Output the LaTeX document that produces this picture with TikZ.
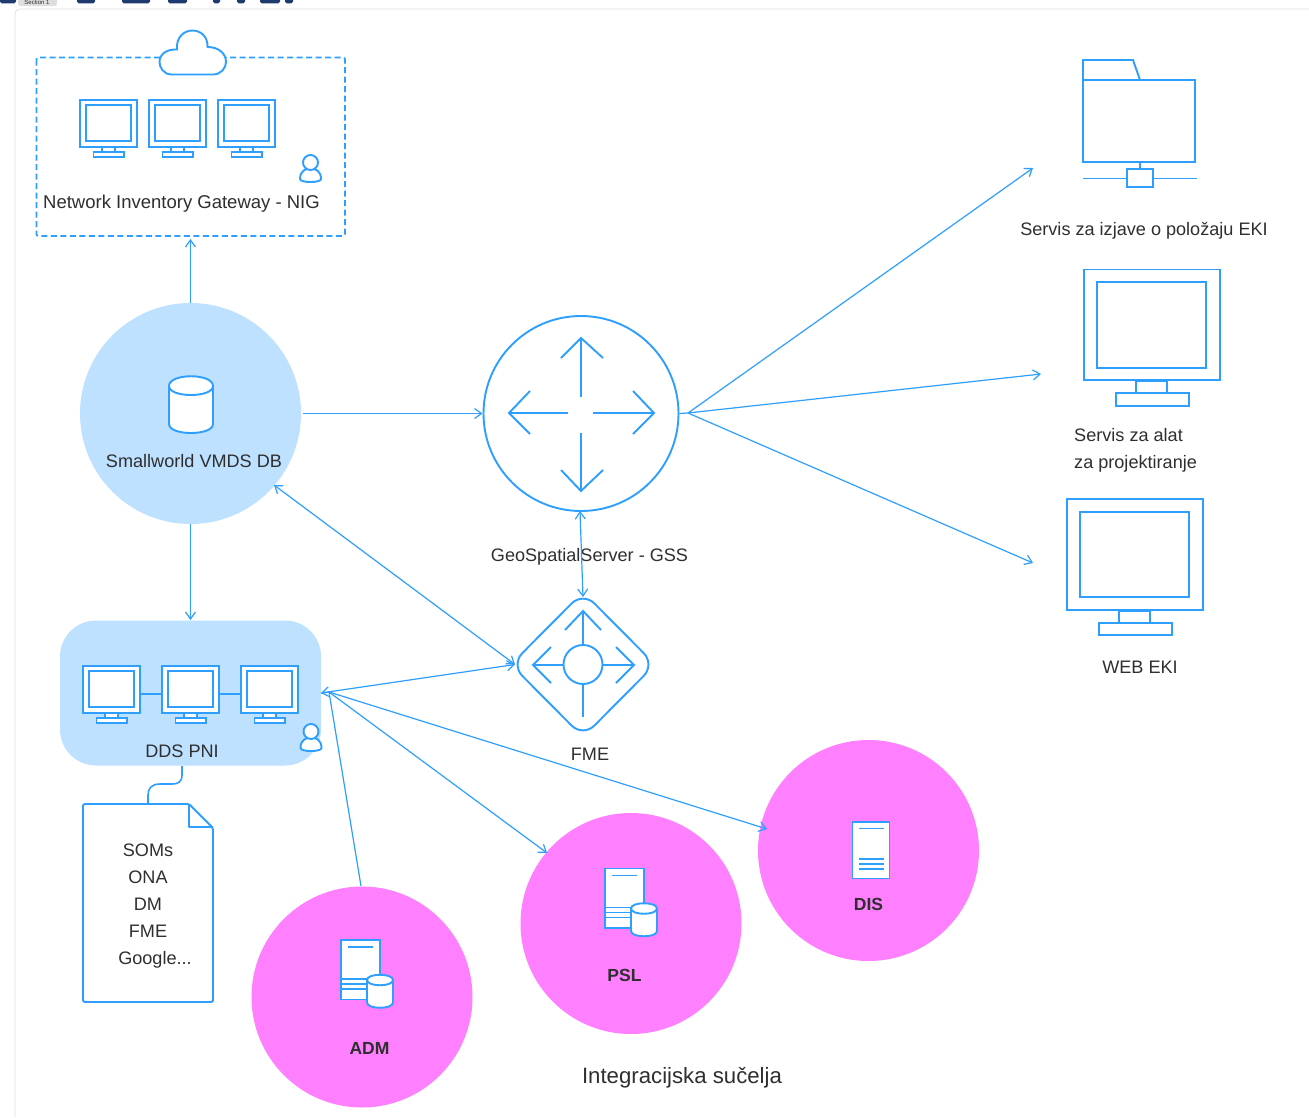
\documentclass[tikz,border=0pt]{standalone}
\usepackage{fontspec}
\setmainfont{Liberation Sans}
\usetikzlibrary{arrows.meta}
\definecolor{lineblue}{HTML}{2E9FFF}
\definecolor{softblue}{HTML}{BDE1FF}
\definecolor{pinkfill}{HTML}{FF80FF}
\definecolor{inktext}{HTML}{2F2F2F}
\definecolor{navy}{HTML}{1F3A6E}
\tikzset{
 x=1pt,y=-1pt,
 icon/.style={draw=lineblue,line width=1.9pt,fill=white},
 iconline/.style={draw=lineblue,line width=1.9pt},
 conn/.style={draw=lineblue,line width=1.2pt,-{Straight Barb[length=7pt,width=10pt,line width=1.2pt]}},
 biconn/.style={draw=lineblue,line width=1.2pt,{Straight Barb[length=7pt,width=10pt,line width=1.2pt]}-{Straight Barb[length=7pt,width=10pt,line width=1.2pt]}},
 plainconn/.style={draw=lineblue,line width=1.2pt},
 lbl/.style={text=inktext,font=\fontsize{18.1}{22}\selectfont,inner sep=0pt,text height=13pt,text depth=0pt},
 blbl/.style={text=inktext,font=\fontsize{17.5}{21}\selectfont\bfseries,inner sep=0pt,text height=12.6pt,text depth=0pt},
 dot/.style={inner sep=0pt,minimum size=0pt},
}
\newcommand{\monitor}[3]{% x y scale; x,y = top-left of outer frame
 \begin{scope}[shift={(#1,#2)},scale=#3]
 \draw[icon] (13.5,52) rectangle (44,57.3);
 \draw[icon] (22,47) rectangle (35,52);
 \draw[icon] (0,0) rectangle (57,46.6);
 \draw[iconline] (5.6,5.4) rectangle (51.4,41.2);
 \end{scope}}
\newcommand{\persona}[2]{%
 \begin{scope}[shift={(#1,#2)}]
 \draw[icon] (-10.5,24) .. controls (-10.5,16) and (-5,13.5) .. (0,13.5) .. controls (5,13.5) and (10.5,16) .. (10.5,24) .. controls (10.5,28) and (-10.5,28) .. (-10.5,24) -- cycle;
 \draw[icon] (0,7.5) circle (7.5);
 \end{scope}}
\newcommand{\serverdb}[2]{% x,y top-left of page
 \begin{scope}[shift={(#1,#2)}]
 \draw[icon] (0,0) rectangle (39,59.5);
 \draw[iconline] (7,7) -- (32,7);
 \draw[iconline] (0,39) -- (27,39) (0,44) -- (27,44) (0,49) -- (27,49);
 \draw[icon] (26,40) -- (26,62.5) .. controls (26,69.5) and (52,69.5) .. (52,62.5) -- (52,40) .. controls (52,33) and (26,33) .. (26,40) -- cycle;
 \draw[iconline] (26,40) .. controls (26,47) and (52,47) .. (52,40);
 \end{scope}}
\newcommand{\headblob}[2]{\fill[navy,rounded corners=1.8pt] (#1,-6) rectangle (#2,3.4);}
\begin{document}
\begin{tikzpicture}
\useasboundingbox (0,0) rectangle (1309,1117);
\fill[white] (0,0) rectangle (1309,1117);
% page chrome cut by the top edge
\draw[black!12,line width=0.8pt] (15,1117) -- (15,15) .. controls (15,11) and (17,9) .. (21,9) -- (1309,9);
\begin{scope}
\clip (0,0) rectangle (1309,8);
\headblob{0}{16}
\headblob{77}{95}
\headblob{122}{150}
\headblob{168}{187}
\headblob{213}{220}
\headblob{237}{245}
\headblob{260}{280}
\headblob{285}{293}
\fill[black!13,rounded corners=2.5pt] (18,-6) rectangle (57,6);
\node[text=inktext,font=\fontsize{6}{7}\selectfont,inner sep=0pt] (sectiontag) at (37,2.5) {Section 1};
\end{scope}

% NIG group
\draw[draw=lineblue,line width=1.8pt,dash pattern=on 6pt off 3.5pt,rounded corners=2pt] (36.5,57.5) rectangle (345,236);
\path[icon] (172,74.5) .. controls (163,74.5) and (159.5,67) .. (159.5,62) .. controls (159.5,54) and (167,49) .. (177,49.5) .. controls (176,37) and (184,30.5) .. (192.5,30.5) .. controls (201,30.5) and (208,37) .. (207.5,47) .. controls (218,47) and (226,53) .. (226,62) .. controls (226,68) and (221,74.5) .. (213,74.5) -- cycle;
\monitor{80}{100}{1}
\monitor{149}{100}{1}
\monitor{218}{100}{1}
\persona{310.5}{155}
\node[lbl,anchor=west,font=\fontsize{18.5}{22}\selectfont] (nig) at (43,202) {Network Inventory Gateway - NIG};
\coordinate (nigbottom) at (190.5,239);

% Smallworld
\node[circle,fill=softblue,minimum size=221pt,inner sep=0pt] (vmds) at (190.5,413.5) {};
\draw[icon] (169,386) -- (169,424) .. controls (169,436) and (213,436) .. (213,424) -- (213,386) .. controls (213,373) and (169,373) .. (169,386) -- cycle;
\draw[iconline] (169,386) .. controls (169,398) and (213,398) .. (213,386);
\node[lbl] (vmdslabel) at (194,461) {Smallworld VMDS DB};

% GSS
\node[circle,draw=lineblue,line width=1.9pt,fill=white,minimum size=195pt,inner sep=0pt] (gss) at (581,413.5) {};
\draw[iconline] (581,338) -- (581,397) (581,433) -- (581,491);
\draw[iconline] (509,413) -- (568,413) (593,413) -- (654,413);
\draw[iconline,line join=miter] (561,358) -- (581,338) -- (603,358);
\draw[iconline,line join=miter] (561,470) -- (581,491) -- (603,470);
\draw[iconline,line join=miter] (530,391) -- (509,413) -- (530,434);
\draw[iconline,line join=miter] (633,391) -- (654,413) -- (633,434);
\node[lbl] (gsslabel) at (589.5,555) {GeoSpatialServer - GSS};

% FME
\draw[icon,rounded corners=16pt] (583,592) -- (655,664.5) -- (583,737) -- (511,664.5) -- cycle;
\node[dot] (fme) at (583,664.5) {};
\coordinate (fmeleft) at (515,664.5);
\coordinate (fmetop) at (583,597);
\draw[iconline] (583,611) -- (583,646) (583,684) -- (583,717);
\draw[iconline] (533,665) -- (564,665) (603,665) -- (634,665);
\draw[iconline,line join=miter] (565,630) -- (583,611) -- (601,630);
\draw[iconline,line join=miter] (551,647) -- (533,665) -- (551,683);
\draw[iconline,line join=miter] (616,647) -- (634,665) -- (616,683);
\draw[icon] (583,664.5) circle (19.5);
\node[lbl] (fmelabel) at (590,754) {FME};

% DDS PNI
\node[draw=none,fill=softblue,rounded corners=36pt,minimum width=261pt,minimum height=145pt,inner sep=0pt] (dds) at (190.5,693) {};
\draw[iconline] (130,694) -- (170,694) (210,694) -- (250,694);
\monitor{83}{666}{1}
\monitor{162}{666}{1}
\monitor{241}{666}{1}
\persona{311}{724}
\node[lbl] (ddslabel) at (182,751) {DDS PNI};
\coordinate (ddsport) at (321,693);

% Note
\draw[icon,line join=round,rounded corners=1.5pt] (83,804) -- (189,804) -- (213,828) -- (213,1002) -- (83,1002) -- cycle;
\draw[iconline,line join=round] (189,804) -- (189,827) -- (213,827);
\coordinate (notetop) at (148,804);
\coordinate (ddsbottom) at (182,766);
\draw[plainconn,line width=1.6pt] (ddsbottom) -- (182,775) .. controls (182,782) and (178,784) .. (172,784) -- (160,784) .. controls (152,784) and (148,788) .. (148,795) -- (notetop);
\node[lbl] (som1) at (148,850) {SOMs};
\node[lbl] (som2) at (148,877) {ONA};
\node[lbl] (som3) at (148,904) {DM};
\node[lbl] (som4) at (148,931) {FME};
\node[lbl] (som5) at (155,958) {Google...};

% Service icons
\draw[icon,line join=miter] (1083,80) -- (1083,60) -- (1133,60) -- (1140,80) -- cycle;
\draw[icon] (1083,80) rectangle (1195,162);
\draw[iconline] (1140,162) -- (1140,169);
\draw[iconline] (1083,178.5) -- (1197,178.5);
\draw[icon] (1127,169) rectangle (1153,187);
\node[lbl] (izjave) at (1144,229) {Servis za izjave o položaju EKI};
\coordinate (folderport) at (1033,168);

\monitor{1084}{269.5}{2.38}
\node[lbl,anchor=west] (alat1) at (1074,435) {Servis za alat};
\node[lbl,anchor=west] (alat2) at (1074,462) {za projektiranje};
\coordinate (alatport) at (1041,374);

\monitor{1067}{499}{2.38}
\node[lbl] (web) at (1140,667) {WEB EKI};
\coordinate (webport) at (1033,563);

% Pink circles
\node[circle,fill=pinkfill,minimum size=221pt,inner sep=0pt] (adm) at (362,997) {};
\serverdb{341}{940}
\node[blbl] (admlabel) at (369.5,1048) {ADM};
\node[circle,fill=pinkfill,minimum size=221pt,inner sep=0pt] (psl) at (631,923.5) {};
\serverdb{605}{868.5}
\node[blbl] (psllabel) at (624.5,975) {PSL};
\node[circle,fill=pinkfill,minimum size=221pt,inner sep=0pt] (dis) at (868.5,850.5) {};
\draw[icon] (852.5,822) rectangle (889.5,878.5);
\draw[iconline] (859,828.5) -- (884,828.5);
\draw[iconline] (859,859) -- (884,859) (859,864) -- (884,864) (859,869) -- (884,869);
\node[blbl] (dislabel) at (868.5,904) {DIS};
\node[lbl,font=\fontsize{22.2}{26}\selectfont,text height=16pt] (integr) at (682,1075) {Integracijska sučelja};

% Connectors
\coordinate (hub) at (688,413);
\coordinate (ddshub) at (329,692);
\draw[conn] (190.5,303) -- (nigbottom);
\draw[conn] (vmds.east) ++(1.5,0) -- (gss.west);
\draw[conn] (190.5,524) -- (190.5,620);
\draw[biconn] (274,485) -- (fmeleft);
\draw[biconn] (580,511) -- (fmetop);
\draw[plainconn] (gss.east) -- (hub);
\draw[conn] (hub) -- (folderport);
\draw[conn] (hub) -- (alatport);
\draw[conn] (hub) -- (webport);
\draw[biconn] (ddsport) -- (fmeleft);
\draw[plainconn] (ddshub) -- (ddsport);
\draw[plainconn] (361,886) -- (ddshub);
\draw[conn] (ddshub) -- (547,853);
\draw[conn] (ddshub) -- (767,829);
\end{tikzpicture}
\end{document}
